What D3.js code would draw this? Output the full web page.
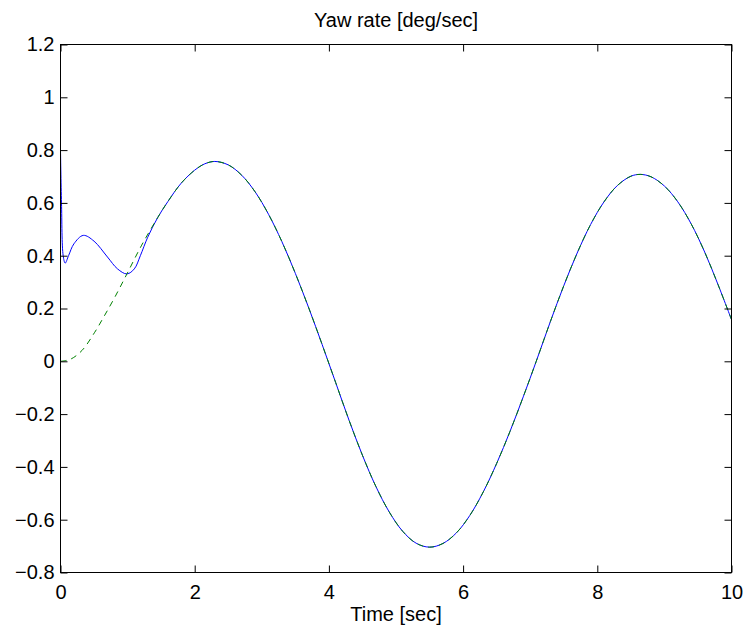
<!DOCTYPE html>
<html>
<head>
<meta charset="utf-8">
<script src="https://cdn.jsdelivr.net/npm/d3@7/dist/d3.min.js"></script>
<style>
  html, body { margin: 0; padding: 0; background: #fff; }
  svg { display: block; }
  text { font-family: "Liberation Sans", Arial, Helvetica, sans-serif; fill: #000; }
</style>
</head>
<body>
<svg id="chart" width="747" height="631"></svg>
<script>
// Reference yaw rate (green dashed)
const refTime = [0, 0.15, 0.32, 0.51, 0.66, 0.81, 0.99, 1.21, 1.45, 1.6, 1.8, 2.0, 2.15, 2.3, 2.5, 2.7, 2.9, 3.1, 3.3, 3.5, 3.7, 3.9, 4.1, 4.3, 4.5, 4.7, 4.9, 5.1, 5.3, 5.5, 5.7, 5.9, 6.1, 6.3, 6.5, 6.7, 6.9, 7.09, 7.3, 7.5, 7.7, 7.9, 8.1, 8.3, 8.5, 8.64, 8.8, 9.0, 9.2, 9.4, 9.6, 9.8, 10];
const refYaw  = [0, 0.008, 0.041, 0.11, 0.175, 0.243, 0.331, 0.44, 0.545, 0.605, 0.675, 0.724, 0.748, 0.757, 0.744, 0.705, 0.642, 0.557, 0.453, 0.333, 0.202, 0.063, -0.08, -0.223, -0.356, -0.474, -0.571, -0.644, -0.689, -0.704, -0.69, -0.65, -0.584, -0.495, -0.387, -0.265, -0.132, 0, 0.15, 0.286, 0.41, 0.518, 0.604, 0.666, 0.701, 0.708, 0.699, 0.664, 0.604, 0.52, 0.414, 0.29, 0.158];

// Measured yaw rate (blue solid)
const actTime = [0, 0.015, 0.04, 0.07, 0.12, 0.2, 0.34, 0.5, 0.7, 0.85, 0.99, 1.1, 1.19, 1.3, 1.45, 1.6, 1.8, 2.0, 2.15, 2.3, 2.5, 2.7, 2.9, 3.1, 3.3, 3.5, 3.7, 3.9, 4.1, 4.3, 4.5, 4.7, 4.9, 5.1, 5.3, 5.5, 5.7, 5.9, 6.1, 6.3, 6.5, 6.7, 6.9, 7.09, 7.3, 7.5, 7.7, 7.9, 8.1, 8.3, 8.5, 8.64, 8.8, 9.0, 9.2, 9.4, 9.6, 9.8, 10];
const actYaw  = [0.8, 0.6, 0.4, 0.372, 0.4, 0.445, 0.477, 0.455, 0.395, 0.35, 0.331, 0.35, 0.4, 0.47, 0.545, 0.605, 0.675, 0.724, 0.748, 0.757, 0.744, 0.705, 0.642, 0.557, 0.453, 0.333, 0.202, 0.063, -0.08, -0.223, -0.356, -0.474, -0.571, -0.644, -0.689, -0.704, -0.69, -0.65, -0.584, -0.495, -0.387, -0.265, -0.132, 0, 0.15, 0.286, 0.41, 0.518, 0.604, 0.666, 0.701, 0.708, 0.699, 0.664, 0.604, 0.52, 0.414, 0.29, 0.158];

const xTicks = [0, 2, 4, 6, 8, 10];
const yTicks = [-0.8, -0.6, -0.4, -0.2, 0, 0.2, 0.4, 0.6, 0.8, 1, 1.2];

const titleText = "Yaw rate [deg/sec]";
const xLabelText = "Time [sec]";

const svg = d3.select("#chart");
const plotLeft = 60.5, plotRight = 731.5, plotTop = 44.5, plotBottom = 572.5;
const fontSize = 20;

const x = d3.scaleLinear().domain([0, 10]).range([plotLeft, plotRight]);
const y = d3.scaleLinear().domain([-0.8, 1.2]).range([plotBottom, plotTop]);

const tickLen = 7;
const fmt = d3.format("");

// Curves, clipped to the axes box
svg.append("clipPath").attr("id", "plotclip")
  .append("rect").attr("x", plotLeft).attr("y", plotTop)
  .attr("width", plotRight - plotLeft).attr("height", plotBottom - plotTop);

const line = d3.line().x((d) => x(d[0])).y((d) => y(d[1])).curve(d3.curveCatmullRom.alpha(0.5));

const g = svg.append("g").attr("clip-path", "url(#plotclip)");
g.append("path")
  .datum(d3.zip(actTime, actYaw))
  .attr("d", line)
  .attr("fill", "none")
  .attr("stroke", "#0000ff")
  .attr("stroke-width", 1);
g.append("path")
  .datum(d3.zip(refTime, refYaw))
  .attr("d", line)
  .attr("fill", "none")
  .attr("stroke", "#008000")
  .attr("stroke-width", 1)
  .attr("stroke-dasharray", "6,5");

// Axes: ticks pointing inward on all four sides
svg.append("g").attr("transform", `translate(0,${plotBottom})`)
  .call(d3.axisBottom(x).tickValues(xTicks).tickSizeInner(-tickLen).tickSizeOuter(0).tickPadding(12).tickFormat(fmt));
svg.append("g").attr("transform", `translate(0,${plotTop})`)
  .call(d3.axisTop(x).tickValues(xTicks).tickSizeInner(-tickLen).tickSizeOuter(0).tickFormat(""));
svg.append("g").attr("transform", `translate(${plotLeft},0)`)
  .call(d3.axisLeft(y).tickValues(yTicks).tickSizeInner(-tickLen).tickSizeOuter(0).tickPadding(6).tickFormat(fmt));
svg.append("g").attr("transform", `translate(${plotRight},0)`)
  .call(d3.axisRight(y).tickValues(yTicks).tickSizeInner(-tickLen).tickSizeOuter(0).tickFormat(""));

svg.selectAll(".domain").remove();
svg.selectAll(".tick line").attr("stroke", "#000");
svg.selectAll(".tick text").attr("font-size", fontSize).attr("font-family", "Liberation Sans, Arial, sans-serif").attr("fill", "#000");

// Box
svg.append("rect")
  .attr("x", plotLeft).attr("y", plotTop)
  .attr("width", plotRight - plotLeft).attr("height", plotBottom - plotTop)
  .attr("fill", "none").attr("stroke", "#000").attr("stroke-width", 1);

// Title and axis label
svg.append("text")
  .attr("x", (plotLeft + plotRight) / 2).attr("y", 27)
  .attr("text-anchor", "middle").attr("font-size", fontSize)
  .text(titleText);
svg.append("text")
  .attr("x", (plotLeft + plotRight) / 2).attr("y", 621)
  .attr("text-anchor", "middle").attr("font-size", fontSize)
  .text(xLabelText);
</script>
</body>
</html>
